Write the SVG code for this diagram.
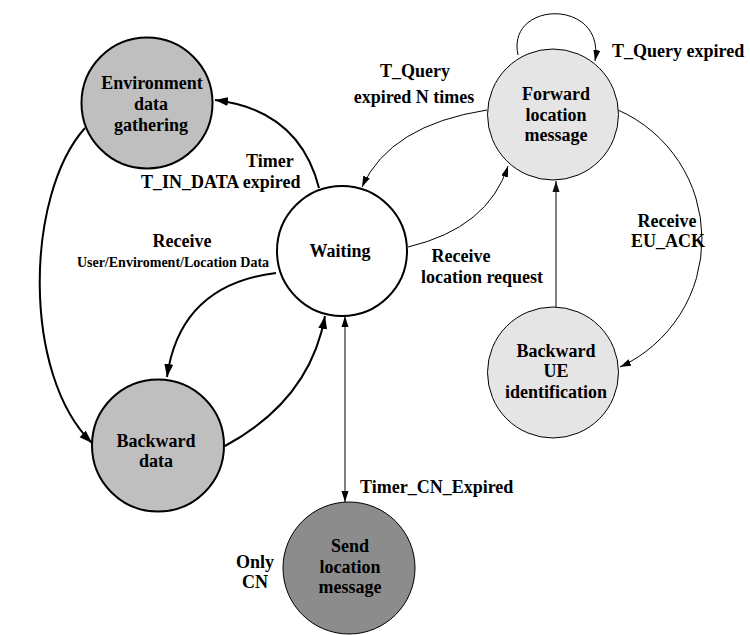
<svg xmlns="http://www.w3.org/2000/svg" width="750" height="635" viewBox="0 0 750 635">
<style>
  .lbl { font-size: 18px; }
  .sm { font-size: 14px; }
  .c { text-anchor: middle; }
  .thick { fill: none; stroke: #000; stroke-width: 2; }
  .thin { fill: none; stroke: #000; stroke-width: 1; }
  .node-thick { stroke: #000; stroke-width: 2; }
  .node-thin { stroke: #000; stroke-width: 1; }
</style>
<defs>
  <marker id="ah" markerUnits="userSpaceOnUse" markerWidth="14" markerHeight="10" refX="13" refY="5" orient="auto">
    <path d="M0,0.5 L13,5 L0,9.5 z" fill="#000"/>
  </marker>
  <marker id="ahs" markerUnits="userSpaceOnUse" markerWidth="12" markerHeight="8" refX="11" refY="4" orient="auto-start-reverse">
    <path d="M0,0.5 L11,4 L0,7.5 z" fill="#000"/>
  </marker>
  <marker id="ahg" markerUnits="userSpaceOnUse" markerWidth="12" markerHeight="8" refX="11" refY="4" orient="auto">
    <path d="M0,0.5 L11,4 L0,7.5 z" fill="#111"/>
  </marker>
</defs>
<rect width="750" height="635" fill="#fff"/>

<g id="connectors">
  <path class="thick" d="M85,128 C25,195 22,375 92,443" marker-end="url(#ah)"/>
  <path class="thick" d="M319,188 Q299,110 215,100" marker-end="url(#ah)"/>
  <path class="thick" d="M276,273 Q180,285 167,377" marker-end="url(#ah)"/>
  <path class="thick" d="M225,446 Q310,400 325,316" marker-end="url(#ah)"/>
  <path class="thin" d="M345,316 L345,502" marker-start="url(#ahs)" marker-end="url(#ahs)"/>
  <path class="thin" d="M487,110 Q390,125 362,187" marker-end="url(#ahs)"/>
  <path class="thin" d="M408,247 Q488,228 508,166" marker-end="url(#ahs)"/>
  <path class="thin" d="M518,55 C506,0 606,-2 595,61" marker-end="url(#ahs)"/>
  <path class="thin" d="M618,110 A141,141 0 0 1 620,367" marker-end="url(#ahs)"/>
  <path class="thin" d="M556,307 L556,181" stroke="#333" marker-end="url(#ahg)"/>
</g>

<g font-family="'Liberation Serif', 'DejaVu Serif', serif" font-weight="bold" fill="#000">
<g id="environment">
  <circle class="node-thick" cx="147" cy="103" r="65.5" fill="#bfbfbf"/>
  <text class="lbl c" x="152" y="89">Environment</text>
  <text class="lbl c" x="151" y="110">data</text>
  <text class="lbl c" x="151" y="131">gathering</text>
</g>

<g id="waiting">
  <circle class="node-thick" cx="342" cy="251" r="65" fill="#fff"/>
  <text class="lbl c" x="340" y="257">Waiting</text>
</g>

<g id="forward">
  <circle class="node-thin" cx="553" cy="114.5" r="65.5" fill="#e5e5e5"/>
  <text class="lbl c" x="556" y="100">Forward</text>
  <text class="lbl c" x="556" y="121">location</text>
  <text class="lbl c" x="556" y="141">message</text>
</g>

<g id="backward-ue">
  <circle class="node-thin" cx="553" cy="372.5" r="65.5" fill="#e5e5e5"/>
  <text class="lbl c" x="556" y="357">Backward</text>
  <text class="lbl c" x="556" y="377">UE</text>
  <text class="lbl c" x="556" y="398">identification</text>
</g>

<g id="backward-data">
  <circle class="node-thick" cx="158" cy="445.5" r="66" fill="#bfbfbf"/>
  <text class="lbl c" x="156" y="447">Backward</text>
  <text class="lbl c" x="156" y="467">data</text>
</g>

<g id="send">
  <circle class="node-thin" cx="349" cy="568" r="66" fill="#8c8c8c"/>
  <text class="lbl c" x="350" y="552">Send</text>
  <text class="lbl c" x="350" y="573">location</text>
  <text class="lbl c" x="350" y="593">message</text>
</g>

<g id="labels">
  <text class="lbl" x="246" y="167">Timer</text>
  <text class="lbl" x="141" y="188">T_IN_DATA expired</text>
  <text class="lbl c" x="182" y="247">Receive</text>
  <text class="sm c" x="173" y="267">User/Enviroment/Location Data</text>
  <text class="lbl c" x="415" y="77">T_Query</text>
  <text class="lbl c" x="414" y="103">expired N times</text>
  <text class="lbl c" x="461" y="262">Receive</text>
  <text class="lbl c" x="482" y="283">location request</text>
  <text class="lbl" x="612" y="57">T_Query expired</text>
  <text class="lbl c" x="667" y="227">Receive</text>
  <text class="lbl c" x="668" y="247">EU_ACK</text>
  <text class="lbl" x="360" y="493">Timer_CN_Expired</text>
  <text class="lbl c" x="255" y="568">Only</text>
  <text class="lbl c" x="255" y="588">CN</text>
</g>
</g>
</svg>
